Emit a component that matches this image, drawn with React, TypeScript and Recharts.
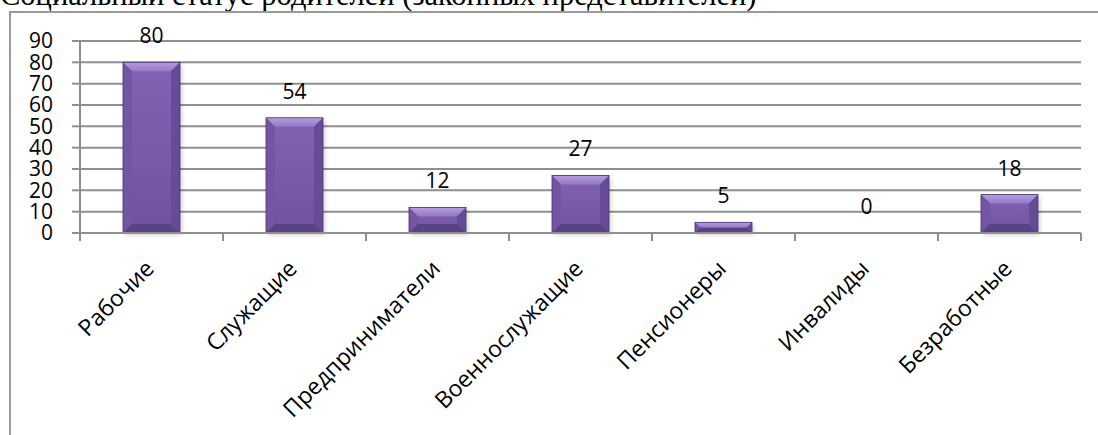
import React from "react";
import {
  BarChart,
  Bar,
  XAxis,
  YAxis,
  CartesianGrid,
  LabelList,
} from "recharts";

const categories = [
  "Рабочие",
  "Служащие",
  "Предприниматели",
  "Военнослужащие",
  "Пенсионеры",
  "Инвалиды",
  "Безработные",
];
const counts = [80, 54, 12, 27, 5, 0, 18];
const yTicks = [0, 10, 20, 30, 40, 50, 60, 70, 80, 90];
const title = "Социальный статус родителей (законных представителей)";

const data = categories.map((name, i) => ({ name, value: counts[i] }));

const FONT = "'Open Sans', 'Noto Sans', sans-serif";
const PLOT_LEFT = 80;
const PLOT_RIGHT = 1081;
const BAND = (PLOT_RIGHT - PLOT_LEFT) / categories.length;

function BevelBar(props: any) {
  const { x, y, width, height } = props;
  if (!height || height <= 0) return null;
  const b = Math.min(9, height / 2);
  const x2 = x + width;
  const y2 = y + height;
  return (
    <g>
      <rect x={x + 2} y={y + 2} width={width} height={height} fill="#000" opacity={0.18} filter="url(#barShadow)" />
      <rect x={x} y={y} width={width} height={height} fill="url(#barBody)" />
      <polygon points={`${x},${y} ${x2},${y} ${x2 - b},${y + b} ${x + b},${y + b}`} fill="url(#barTop)" />
      <polygon points={`${x},${y} ${x + b},${y + b} ${x + b},${y2 - b} ${x},${y2}`} fill="#7355a3" />
      <polygon points={`${x2},${y} ${x2},${y2} ${x2 - b},${y2 - b} ${x2 - b},${y + b}`} fill="#664b96" />
      <polygon points={`${x},${y2} ${x + b},${y2 - b} ${x2 - b},${y2 - b} ${x2},${y2}`} fill="#5a4286" />
      <rect x={x} y={y} width={width} height={height} fill="none" stroke="#4a3570" strokeWidth={0.8} />
    </g>
  );
}

function CategoryTick(props: any) {
  const { x, y, payload, index } = props;
  const ax = x + 4;
  const ay = y + 37;
  return (
    <g>
      <line x1={x + BAND / 2} y1={y} x2={x + BAND / 2} y2={y + 8} stroke="#8f8f8f" strokeWidth={2} />
      {index === 0 && (
        <line x1={x - BAND / 2} y1={y} x2={x - BAND / 2} y2={y + 8} stroke="#8f8f8f" strokeWidth={2} />
      )}
      <text
        x={ax}
        y={ay}
        transform={`rotate(-45, ${ax}, ${ay})`}
        textAnchor="end"
        fontFamily={FONT}
        fontSize={23}
        fill="#000"
      >
        {payload.value}
      </text>
    </g>
  );
}

export default function App() {
  return (
    <div style={{ position: "absolute", left: 0, top: 0, width: 1098, height: 435, overflow: "hidden", background: "#fff" }}>
      <div
        style={{
          position: "absolute",
          left: 0,
          top: -20,
          fontFamily: "'Liberation Serif', 'Times New Roman', serif",
          fontSize: 30.5,
          lineHeight: "31px",
          whiteSpace: "nowrap",
          color: "#000",
        }}
      >
        {title}
      </div>
      <div
        style={{
          position: "absolute",
          left: 9,
          top: 11,
          width: 1200,
          height: 600,
          border: "2px solid #9a9a9a",
        }}
      />
      <div style={{ position: "absolute", left: 0, top: 0 }}>
        <BarChart
          width={1098}
          height={435}
          data={data}
          margin={{ top: 41, right: 1098 - PLOT_RIGHT, bottom: 52, left: 0 }}
        >
          <defs>
            <linearGradient id="barBody" x1="0" y1="0" x2="0" y2="1">
              <stop offset="0%" stopColor="#8263b3" />
              <stop offset="100%" stopColor="#6f529d" />
            </linearGradient>
            <linearGradient id="barTop" x1="0" y1="0" x2="0" y2="1">
              <stop offset="0%" stopColor="#b49de0" />
              <stop offset="100%" stopColor="#9478c6" />
            </linearGradient>
            <filter id="barShadow" x="-20%" y="-20%" width="140%" height="140%">
              <feGaussianBlur stdDeviation="2" />
            </filter>
          </defs>
          <CartesianGrid vertical={false} stroke="#8f8f8f" strokeWidth={2} />
          <XAxis
            dataKey="name"
            interval={0}
            height={150}
            axisLine={{ stroke: "#8f8f8f", strokeWidth: 2 }}
            tickLine={false}
            tickSize={0}
            tickMargin={0}
            tick={<CategoryTick />}
          />
          <YAxis
            type="number"
            domain={[0, 90]}
            ticks={yTicks}
            interval={0}
            width={80}
            axisLine={{ stroke: "#8f8f8f", strokeWidth: 2 }}
            tickLine={{ stroke: "#8f8f8f", strokeWidth: 2 }}
            tickSize={8}
            tickMargin={19}
            tick={{ fontFamily: FONT, fontSize: 21, fill: "#000" }}
          />
          <Bar dataKey="value" barSize={57} shape={<BevelBar />} isAnimationActive={false}>
            <LabelList
              dataKey="value"
              position="top"
              offset={19}
              fontFamily={FONT}
              fontSize={21}
              fill="#000"
            />
          </Bar>
        </BarChart>
      </div>
    </div>
  );
}
